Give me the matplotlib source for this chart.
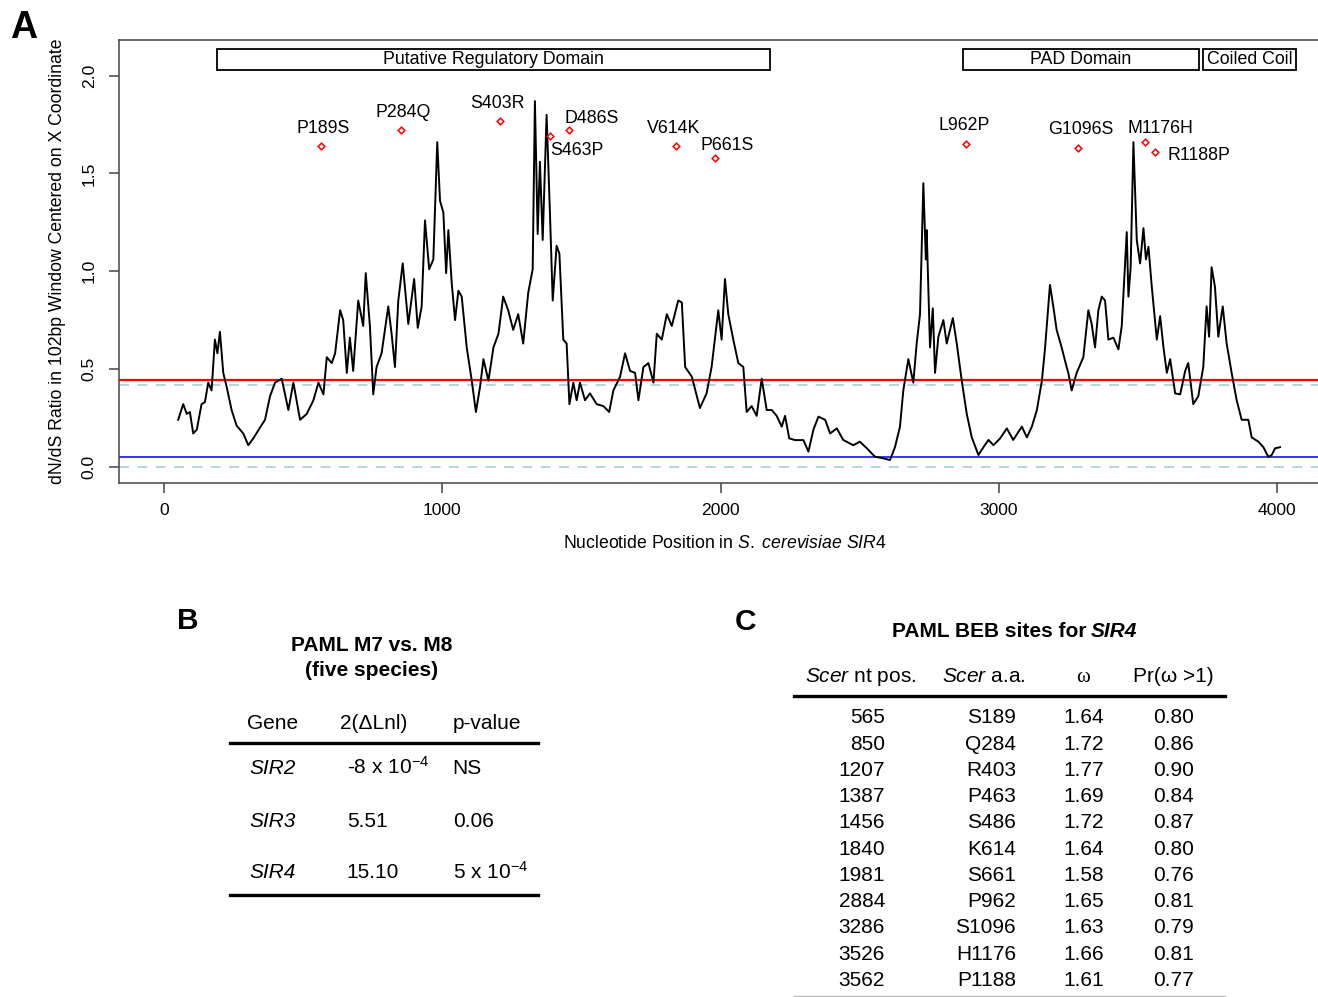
import matplotlib
matplotlib.use("Agg")
import matplotlib.pyplot as plt
from matplotlib.patches import Rectangle
from matplotlib.lines import Line2D

plt.rcParams['font.family'] = ['Liberation Sans', 'DejaVu Sans']
plt.rcParams['mathtext.fontset'] = 'custom'
plt.rcParams['mathtext.rm'] = 'Liberation Sans'
plt.rcParams['mathtext.it'] = 'Liberation Sans:italic'
plt.rcParams['mathtext.bf'] = 'Liberation Sans:bold'

# sliding-window dN/dS along SIR4
nt = [51, 69, 82, 93, 105, 118, 135, 147, 159, 171,
      183, 192, 201, 213, 225, 243, 261, 285, 303, 321,
      345, 363, 381, 399, 423, 447, 465, 489, 513, 537,
      555, 573, 585, 603, 615, 633, 644, 657, 668, 680,
      698, 716, 725, 740, 752, 764, 782, 806, 818, 830,
      842, 858, 878, 899, 912, 926, 938, 953, 968, 982,
      992, 1004, 1014, 1022, 1034, 1046, 1058, 1070, 1088, 1106,
      1121,
      1136, 1148, 1166, 1184, 1202, 1219, 1237, 1255, 1273, 1291,
      1309, 1325, 1333, 1343, 1351, 1361, 1375, 1387, 1397, 1411,
      1421, 1435, 1447, 1457, 1471, 1483, 1495, 1513, 1531, 1555,
      1579, 1600, 1615, 1639, 1657, 1675, 1693, 1705, 1723, 1741,
      1759, 1771, 1789, 1807, 1825, 1848, 1861, 1873, 1897, 1926,
      1950, 1968, 1992, 2004, 2016, 2028, 2046, 2064, 2082, 2094,
      2112, 2130, 2148, 2166, 2184, 2202, 2220, 2232, 2247,
      2268, 2298, 2316, 2334, 2352, 2376, 2394, 2418, 2441, 2477,
      2501, 2526, 2555, 2585, 2609, 2627, 2645, 2657, 2675, 2693,
      2705, 2717, 2729, 2738, 2741, 2753, 2763, 2771, 2783, 2801,
      2813, 2835, 2849, 2867, 2885, 2903, 2927, 2945, 2963, 2981,
      3005, 3029, 3052, 3083, 3101, 3119, 3137, 3155, 3166, 3184,
      3196, 3208, 3226, 3244,
      3250, 3262, 3280, 3304, 3322, 3334, 3346, 3358, 3370, 3382,
      3394, 3412, 3430, 3442, 3460, 3466, 3474, 3484, 3496, 3508,
      3520, 3529, 3538, 3550, 3568, 3580, 3592, 3604, 3616, 3634,
      3652, 3670, 3681, 3699, 3717, 3735, 3747, 3756, 3765, 3777,
      3789, 3805, 3819, 3837, 3855, 3873, 3897, 3909, 3933, 3951,
      3969, 3981, 3993, 4011]
dnds = [0.24, 0.32, 0.27, 0.28, 0.17, 0.19, 0.32, 0.33, 0.43, 0.39,
        0.65, 0.58, 0.69, 0.48, 0.41, 0.29, 0.21, 0.17, 0.11, 0.145,
        0.20, 0.24, 0.36, 0.43, 0.45, 0.29, 0.43, 0.24, 0.27, 0.34,
        0.43, 0.37, 0.56, 0.53, 0.58, 0.80, 0.75, 0.48, 0.66, 0.49,
        0.85, 0.72, 0.99, 0.72, 0.37, 0.51, 0.58, 0.82, 0.68, 0.51,
        0.85, 1.04, 0.73, 0.96, 0.71, 0.82, 1.26, 1.01, 1.06, 1.66,
        1.36, 1.30, 0.99, 1.21, 0.94, 0.75, 0.90, 0.87, 0.61, 0.44,
        0.28,
        0.41, 0.55, 0.44, 0.61, 0.68, 0.87, 0.80, 0.70, 0.78, 0.63,
        0.89, 1.01, 1.87, 1.19, 1.56, 1.16, 1.80, 1.30, 0.85, 1.13,
        1.09, 0.65, 0.63, 0.32, 0.43, 0.34, 0.43, 0.34, 0.375, 0.32,
        0.31, 0.28, 0.39, 0.46, 0.58, 0.49, 0.48, 0.34, 0.51, 0.53,
        0.43, 0.68, 0.65, 0.78, 0.72, 0.85, 0.84, 0.51, 0.46, 0.30,
        0.375, 0.51, 0.80, 0.65, 0.96, 0.78, 0.65, 0.53, 0.51, 0.28,
        0.31, 0.26, 0.45, 0.29, 0.29, 0.26, 0.205, 0.26, 0.145,
        0.136, 0.136, 0.077, 0.19, 0.256, 0.24, 0.17, 0.196, 0.137, 0.11,
        0.128, 0.094, 0.051, 0.043, 0.034, 0.10, 0.205, 0.39, 0.55, 0.43,
        0.63, 0.78, 1.45, 1.06, 1.21, 0.61, 0.81, 0.48, 0.665, 0.75,
        0.63, 0.76, 0.63, 0.44, 0.27, 0.15, 0.06, 0.10, 0.137, 0.11,
        0.145, 0.196, 0.137, 0.205, 0.15, 0.205, 0.29, 0.44, 0.60, 0.93,
        0.82, 0.70, 0.61, 0.51,
        0.48, 0.39, 0.48, 0.56, 0.80, 0.73, 0.61, 0.80, 0.87, 0.85,
        0.65, 0.66, 0.60, 0.72, 1.20, 0.87, 1.02, 1.66, 1.16, 1.04,
        1.22, 1.06, 1.125, 0.92, 0.65, 0.77, 0.61, 0.48, 0.55, 0.375,
        0.37, 0.49, 0.53, 0.32, 0.36, 0.51, 0.82, 0.665, 1.02, 0.92,
        0.665, 0.82, 0.63, 0.48, 0.34, 0.24, 0.24, 0.15, 0.128, 0.10,
        0.05, 0.06, 0.094, 0.10]

red_level = 0.443
red_dash_level = 0.418
blue_level = 0.05
blue_dash_level = 0.0

# BEB sites
nt_pos = [565, 850, 1207, 1387, 1456, 1840, 1981, 2884, 3286, 3526, 3562]
scer_aa = ["S189", "Q284", "R403", "P463", "S486", "K614", "S661", "P962",
           "S1096", "H1176", "P1188"]
omega = [1.64, 1.72, 1.77, 1.69, 1.72, 1.64, 1.58, 1.65, 1.63, 1.66, 1.61]
pr_omega = [0.80, 0.86, 0.90, 0.84, 0.87, 0.80, 0.76, 0.81, 0.79, 0.81, 0.77]
site_labels = ["P189S", "P284Q", "S403R", "S463P", "D486S", "V614K", "P661S",
               "L962P", "G1096S", "M1176H", "R1188P"]

domain_names = ["Putative Regulatory Domain", "PAD Domain", "Coiled Coil"]
domain_start = [189, 2872, 3735]
domain_end = [2178, 3720, 4070]

# table B
genes = ["SIR2", "SIR3", "SIR4"]
lnl = ["-8 x 10$^{-4}$", "5.51", "15.10"]
pvals = ["NS", "0.06", "5 x 10$^{-4}$"]

W, H = 1318, 997
fig = plt.figure(figsize=(W / 100, H / 100), dpi=100)
fig.patch.set_facecolor('white')


def fx(px):
    return px / W


def fy(py):
    return 1 - py / H


ax = fig.add_axes([fx(119), fy(483.3), (1322 - 119) / W, (483.3 - 40) / H])
dash_col = '#a9cfd6'
ax.axhline(red_dash_level, color=dash_col, lw=1.2, ls=(0, (6, 5)))
ax.axhline(blue_dash_level, color=dash_col, lw=1.2, ls=(0, (6, 5)))
ax.axhline(red_level, color='red', lw=1.6)
ax.axhline(blue_level, color='blue', lw=1.1)
ax.plot(nt, dnds, color='black', lw=1.4)
ax.plot(nt_pos, omega, ls='none', marker='D', ms=3.4, mfc='none', mec='red', mew=1.1)

# label offsets in pixels (dx, dy up, alignment)
lab_dx = [2, 2.5, -2, 0, -5, -2.7, -15, -2.3, 2.5, -17.8, 12.2]
lab_dy = [19, 19.7, 19.5, -12.5, 13.7, 19.8, 14.1, 20.8, 20.2, 15.5, -1.4]
lab_ha = ['center', 'center', 'center', 'left', 'left', 'center', 'left',
          'center', 'center', 'left', 'left']
for i, lab in enumerate(site_labels):
    ax.annotate(lab, (nt_pos[i], omega[i]),
                xytext=(lab_dx[i] * 0.72, (lab_dy[i] - 6.4) * 0.72),
                textcoords='offset points', ha=lab_ha[i], va='baseline',
                fontsize=12.8)

for name, s, e in zip(domain_names, domain_start, domain_end):
    ax.add_patch(Rectangle((s, 2.031), e - s, 0.106, facecolor='white',
                           edgecolor='black', lw=1.3, clip_on=False, zorder=3))
    ax.text((s + e) / 2, 2.084, name, ha='center', va='center',
            fontsize=12.8, zorder=4)

ax.set_xlim(-161.7, 4161.7)
ax.set_ylim(-0.0849, 2.1826)
ax.set_xticks([0, 1000, 2000, 3000, 4000])
ax.set_yticks([0, 0.5, 1.0, 1.5, 2.0])
ax.set_yticklabels(['0.0', '0.5', '1.0', '1.5', '2.0'])
ax.tick_params(axis='both', direction='out', length=7, width=1.1,
               color='#444444', labelsize=12.6)
ax.tick_params(axis='x', pad=7)
ax.tick_params(axis='y', pad=9, labelrotation=90)
for t in ax.get_yticklabels():
    t.set_va('center')
for s in ['left', 'bottom', 'top']:
    ax.spines[s].set_color('#444444')
    ax.spines[s].set_linewidth(1.1)
ax.spines['right'].set_visible(False)

fig.text(fx(58), fy(261), 'dN/dS Ratio in 102bp Window Centered on X Coordinate',
         rotation=90, ha='center', va='center', fontsize=12.7)
fig.text(fx(725), fy(548.3), r'Nucleotide Position in $\mathit{S.\ cerevisiae\ SIR4}$',
         ha='center', va='baseline', fontsize=12.7)

fig.text(fx(24), fy(38.3), 'A', ha='center', va='baseline', fontsize=27, weight='bold')
fig.text(fx(188), fy(629.3), 'B', ha='center', va='baseline', fontsize=21.5, weight='bold')
fig.text(fx(746), fy(630), 'C', ha='center', va='baseline', fontsize=21.5, weight='bold')


def rule(x0, x1, y, lw=2.4, color='black'):
    fig.add_artist(Line2D([fx(x0), fx(x1)], [fy(y), fy(y)], lw=lw, color=color,
                          transform=fig.transFigure))


# table B
fs = 15
fig.text(fx(371.7), fy(650.7), 'PAML M7 vs. M8', ha='center', va='baseline',
         fontsize=fs, weight='bold')
fig.text(fx(371.7), fy(676), '(five species)', ha='center', va='baseline',
         fontsize=fs, weight='bold')
fig.text(fx(272.7), fy(729.3), 'Gene', ha='center', va='baseline', fontsize=fs)
fig.text(fx(373.3), fy(729.3), '2(\u0394Lnl)', ha='center', va='baseline', fontsize=fs)
fig.text(fx(452.7), fy(729.3), 'p-value', ha='left', va='baseline', fontsize=fs)
rule(230, 538, 742.7)
row_b = [774.3, 826.7, 878.3]
for g, v, p, yb in zip(genes, lnl, pvals, row_b):
    fig.text(fx(249.3), fy(yb), g, ha='left', va='baseline', fontsize=fs, style='italic')
    fig.text(fx(346.7), fy(yb), v, ha='left', va='baseline', fontsize=fs)
    fig.text(fx(452.7), fy(yb), p, ha='left', va='baseline', fontsize=fs)
rule(230, 538, 895)

# table C
fig.text(fx(1086), fy(636.7), 'PAML BEB sites for', ha='right', va='baseline',
         fontsize=fs, weight='bold')
fig.text(fx(1090.5), fy(636.7), 'SIR4', ha='left', va='baseline',
         fontsize=fs, weight='bold', style='italic')
fig.text(fx(861), fy(681.7), r'$\mathit{Scer}$ nt pos.', ha='center', va='baseline', fontsize=fs)
fig.text(fx(984), fy(681.7), r'$\mathit{Scer}$ a.a.', ha='center', va='baseline', fontsize=fs)
fig.text(fx(1083.3), fy(681.7), '\u03c9', ha='center', va='baseline', fontsize=fs,
         family=['Liberation Serif', 'DejaVu Serif'])
fig.text(fx(1173.3), fy(681.7), 'Pr(\u03c9 >1)', ha='center', va='baseline', fontsize=fs)
rule(794, 1225, 696)
for i in range(len(nt_pos)):
    yb = 723.3 + i * 26.27
    fig.text(fx(885), fy(yb), str(nt_pos[i]), ha='right', va='baseline', fontsize=fs)
    fig.text(fx(1016), fy(yb), scer_aa[i], ha='right', va='baseline', fontsize=fs)
    fig.text(fx(1083.3), fy(yb), '%.2f' % omega[i], ha='center', va='baseline', fontsize=fs)
    fig.text(fx(1173.3), fy(yb), '%.2f' % pr_omega[i], ha='center', va='baseline', fontsize=fs)
rule(794, 1225, 996, lw=1.0, color='#bbbbbb')

fig.savefig('out.png', dpi=100, facecolor='white')
